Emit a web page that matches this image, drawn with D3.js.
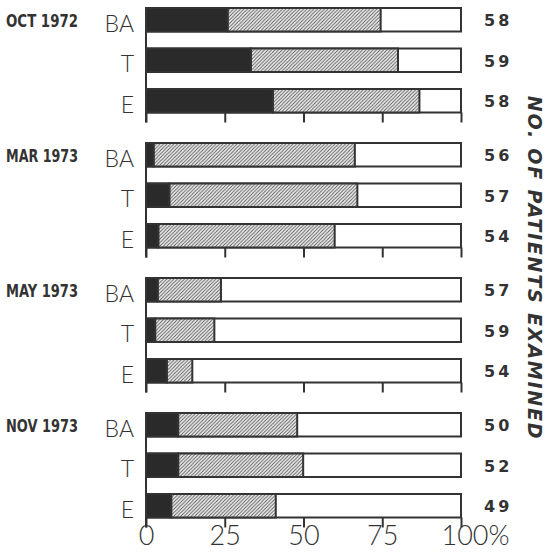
<!DOCTYPE html>
<html>
<head>
<meta charset="utf-8">
<script src="https://cdn.jsdelivr.net/npm/d3@7"></script>
<style>
  body { margin: 0; background: #fff; }
  svg { display: block; }
</style>
</head>
<body>
<div id="chart"></div>
<script>
// survey dates, sites and patient counts
const groups = ["OCT 1972", "MAR 1973", "MAY 1973", "NOV 1973"];
const sites = ["BA", "T", "E"];
// percent in the solid (black) part, per group, per site
const solidPct = [
    [25.9, 33.3, 40.3],
    [2.4, 7.4, 3.9],
    [3.7, 2.9, 6.6],
    [10.2, 10.2, 8.0]
];
// cumulative percent where the hatched part ends
const hatchEnd = [
    [74.5, 80.0, 86.8],
    [66.3, 67.1, 59.9],
    [23.8, 21.7, 14.7],
    [48.0, 49.9, 41.2]
];
const patients = [
    [58, 59, 58],
    [56, 57, 54],
    [57, 59, 54],
    [50, 52, 49]
];
const ticks = [0, 25, 50, 75, 100];

const width = 548, height = 555;
const ink = "#333";

const svg = d3.select("#chart")
    .append("svg")
    .attr("width", width)
    .attr("height", height);

const defs = svg.append("defs");
const pat = defs.append("pattern")
    .attr("id", "hatch")
    .attr("patternUnits", "userSpaceOnUse")
    .attr("width", 3.5)
    .attr("height", 3.5);
pat.append("rect").attr("width", 3.5).attr("height", 3.5).attr("fill", "#f2f2f2");
pat.append("path")
    .attr("d", "M-1,1 l2,-2 M0,3.5 l3.5,-3.5 M2.5,4.5 l2,-2")
    .attr("stroke", "#555")
    .attr("stroke-width", 0.9);

const x = d3.scaleLinear().domain([0, 100]).range([146, 461]);

const y0 = d3.scaleBand().domain(groups).range([8, 8 + 135 * groups.length]);
const y1 = d3.scaleBand().domain(sites).range([0, 104.5]).paddingInner(0.42);

const rows = [];
groups.forEach((g, gi) => {
    sites.forEach((s, si) => {
        rows.push({
            group: g, site: s,
            solid: solidPct[gi][si],
            hatch: hatchEnd[gi][si],
            n: patients[gi][si]
        });
    });
});

const rowG = svg.selectAll("g.row")
    .data(rows)
    .enter()
    .append("g")
    .attr("class", "row")
    .attr("transform", d => `translate(0, ${y0(d.group) + y1(d.site)})`);

const bh = y1.bandwidth();

// white background of whole bar
rowG.append("rect")
    .attr("x", x(0))
    .attr("y", 0)
    .attr("width", x(100) - x(0))
    .attr("height", bh)
    .attr("fill", "#fff")
    .attr("stroke", ink)
    .attr("stroke-width", 2);

rowG.append("rect")
    .attr("x", d => x(d.solid))
    .attr("y", 0)
    .attr("width", d => x(d.hatch) - x(d.solid))
    .attr("height", bh)
    .attr("fill", "url(#hatch)")
    .attr("stroke", ink)
    .attr("stroke-width", 2);

rowG.append("rect")
    .attr("x", x(0))
    .attr("y", 0)
    .attr("width", d => x(d.solid) - x(0))
    .attr("height", bh)
    .attr("fill", "#2a2a2a")
    .attr("stroke", ink)
    .attr("stroke-width", 2);

// site labels
rowG.append("text")
    .attr("x", 134)
    .attr("y", bh + 0.5)
    .attr("text-anchor", "end")
    .attr("font-family", "Lato, 'DejaVu Sans', sans-serif")
    .attr("font-weight", 300)
    .attr("font-size", "23px")
    .attr("fill", "#333")
    .text(d => d.site);

// patient counts
rowG.append("text")
    .attr("x", 484)
    .attr("y", bh / 2 + 6.5)
    .attr("font-family", "'DejaVu Sans', sans-serif")
    .attr("font-weight", "bold")
    .attr("font-size", "16px")
    .attr("letter-spacing", "3px")
    .attr("fill", "#333")
    .text(d => d.n);

// group labels + axes
groups.forEach((g, gi) => {
    const top = y0(g);
    const bottom = top + 104.5;
    const gg = svg.append("g");

    gg.append("text")
        .attr("x", 6)
        .attr("y", top + y1("BA") + 19)
        .attr("textLength", 72)
        .attr("lengthAdjust", "spacingAndGlyphs")
        .attr("font-family", "'Liberation Sans Narrow', 'DejaVu Sans Condensed', sans-serif")
        .attr("font-weight", "bold")
        .attr("font-size", "17px")
        .attr("fill", "#333")
        .text(g);

    gg.append("line")
        .attr("x1", x(0)).attr("x2", x(0))
        .attr("y1", top).attr("y2", bottom + 10)
        .attr("stroke", ink).attr("stroke-width", 2);

    const axis = d3.axisBottom(x)
        .tickValues(ticks)
        .tickSize(10)
        .tickFormat(gi === groups.length - 1 ? (d => d === 100 ? "100%" : d) : "");

    const ax = gg.append("g")
        .attr("transform", `translate(0, ${bottom})`)
        .call(axis);
    ax.select(".domain").remove();
    ax.selectAll(".tick line").attr("stroke", ink).attr("stroke-width", 2);
    ax.selectAll(".tick text")
        .attr("font-family", "Lato, 'DejaVu Sans', sans-serif")
        .attr("font-weight", 300)
        .attr("font-size", "27px")
        .attr("fill", "#333")
        .attr("dy", "0.85em")
        .attr("y", 5);
    ax.selectAll(".tick text")
        .filter(d => d === 100)
        .attr("text-anchor", "start")
        .attr("x", -20);
});

svg.append("text")
    .attr("transform", "translate(528, 268) rotate(90)")
    .attr("text-anchor", "middle")
    .attr("font-family", "'DejaVu Sans', sans-serif")
    .attr("font-style", "italic")
    .attr("font-weight", "bold")
    .attr("font-size", "19px")
    .attr("letter-spacing", "1.8px")
    .attr("fill", "#333")
    .text("NO. OF PATIENTS EXAMINED");
</script>
</body>
</html>
